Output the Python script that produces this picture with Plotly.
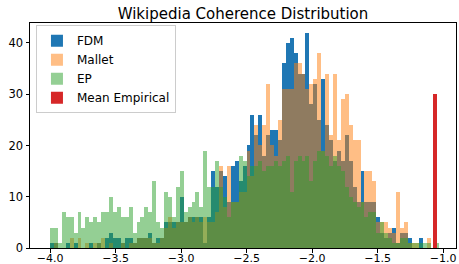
import plotly.graph_objects as go

# bin grid: 100 bins from -4.0 to -1.0 (width 0.03)
bin_start = -4.0
bin_width = 0.03
centers = [round(bin_start + bin_width * (k + 0.5), 4) for k in range(100)]

fdm_counts = [
    1, 1, 0, 0, 1, 0, 1, 0, 0, 0,
    1, 0, 1, 0, 2, 3, 2, 2, 1, 2,
    2, 1, 2, 2, 2, 3, 1, 2, 2, 5,
    5, 5, 5, 10, 5, 6, 6, 6, 6, 1,
    6, 15, 12, 15, 14, 9, 16, 17, 13, 16,
    20, 26, 22, 26, 18, 22, 23, 23, 21, 36,
    40, 41, 38, 34, 34, 42, 28, 32, 25, 33,
    24, 21, 17, 19, 17, 22, 17, 12, 9, 15,
    9, 9, 9, 6, 3, 2, 3, 4, 1, 3,
    3, 2, 0, 0, 2, 0, 0, 0, 0, 0,
]

mallet_counts = [
    0, 1, 0, 0, 0, 2, 0, 2, 0, 1,
    0, 1, 1, 2, 0, 1, 0, 0, 1, 0,
    1, 1, 2, 2, 2, 2, 1, 1, 2, 4,
    6, 4, 5, 5, 5, 6, 5, 6, 5, 6,
    5, 5, 7, 16, 8, 16, 9, 9, 11, 11,
    19, 14, 24, 20, 24, 32, 20, 18, 25, 31,
    31, 31, 36, 36, 34, 31, 32, 33, 38, 19,
    34, 22, 34, 21, 29, 30, 24, 21, 21, 9,
    15, 15, 13, 5, 5, 5, 4, 3, 11, 4,
    5, 1, 1, 1, 0, 0, 2, 0, 0, 0,
]

ep_counts = [
    4, 4, 1, 7, 6, 6, 3, 7, 4, 6,
    5, 6, 5, 7, 7, 10, 7, 8, 6, 6,
    8, 3, 5, 6, 8, 7, 13, 5, 4, 11,
    10, 6, 12, 15, 7, 8, 9, 11, 8, 19,
    12, 12, 17, 12, 10, 6, 9, 9, 18, 17,
    14, 16, 16, 17, 15, 16, 16, 17, 16, 17,
    18, 11, 17, 18, 17, 18, 13, 17, 19, 19,
    18, 16, 18, 16, 15, 12, 10, 9, 8, 9,
    6, 7, 7, 3, 5, 3, 2, 1, 1, 2,
    2, 1, 1, 1, 1, 1, 1, 0, 1, 0,
]

mean_empirical_x = [-1.06]
mean_empirical_count = [30]

x_tick_vals = [-4.0, -3.5, -3.0, -2.5, -2.0, -1.5, -1.0]
x_tick_text = ["\u22124.0", "\u22123.5", "\u22123.0", "\u22122.5", "\u22122.0", "\u22121.5", "\u22121.0"]
y_tick_vals = [0, 10, 20, 30, 40]

fig = go.Figure()
fig.add_trace(go.Bar(x=centers, y=fdm_counts, width=bin_width, name="FDM",
                     marker=dict(color="#1f77b4", line=dict(width=0)), opacity=1.0))
fig.add_trace(go.Bar(x=centers, y=mallet_counts, width=bin_width, name="Mallet",
                     marker=dict(color="#ff7f0e", line=dict(width=0)), opacity=0.5))
fig.add_trace(go.Bar(x=centers, y=ep_counts, width=bin_width, name="EP",
                     marker=dict(color="#2ca02c", line=dict(width=0)), opacity=0.5))
fig.add_trace(go.Bar(x=mean_empirical_x, y=mean_empirical_count, width=bin_width, name="Mean Empirical",
                     marker=dict(color="#d62728", line=dict(width=0)), opacity=1.0))

fig.update_layout(
    width=459, height=264,
    barmode="overlay", bargap=0,
    margin=dict(l=30, r=3, t=23, b=15.5, autoexpand=False),
    paper_bgcolor="white", plot_bgcolor="white",
    font=dict(family="DejaVu Sans", size=12, color="black"),
    title=dict(text="Wikipedia Coherence Distribution", x=0.5, xref="paper", xanchor="center",
               y=0.947, yref="container", yanchor="middle", font=dict(size=15, color="black")),
    legend=dict(x=0.014, y=0.99, xanchor="left", yanchor="top",
                bgcolor="rgba(255,255,255,0.8)", bordercolor="#cccccc", borderwidth=1,
                font=dict(size=12, color="black"), itemwidth=30, tracegroupgap=0),
    showlegend=True,
)
fig.update_xaxes(range=[-4.153, -0.901], tickvals=x_tick_vals, ticktext=x_tick_text,
                 automargin=False,
                 showgrid=False, zeroline=False, showline=True, linecolor="black", linewidth=1,
                 mirror=True, ticks="outside", ticklen=3.5, tickcolor="black",
                 ticklabelstandoff=-4,
                 tickfont=dict(size=11, color="black"))
fig.update_yaxes(range=[0, 43.9], tickvals=y_tick_vals, automargin=False,
                 showgrid=False, zeroline=False, showline=True, linecolor="black", linewidth=1,
                 mirror=True, ticks="outside", ticklen=3.5, tickcolor="black",
                 tickfont=dict(size=11.5, color="black"))

fig.write_html("out.html", config={"displayModeBar": False},
               post_script="document.body.style.margin='0';")
